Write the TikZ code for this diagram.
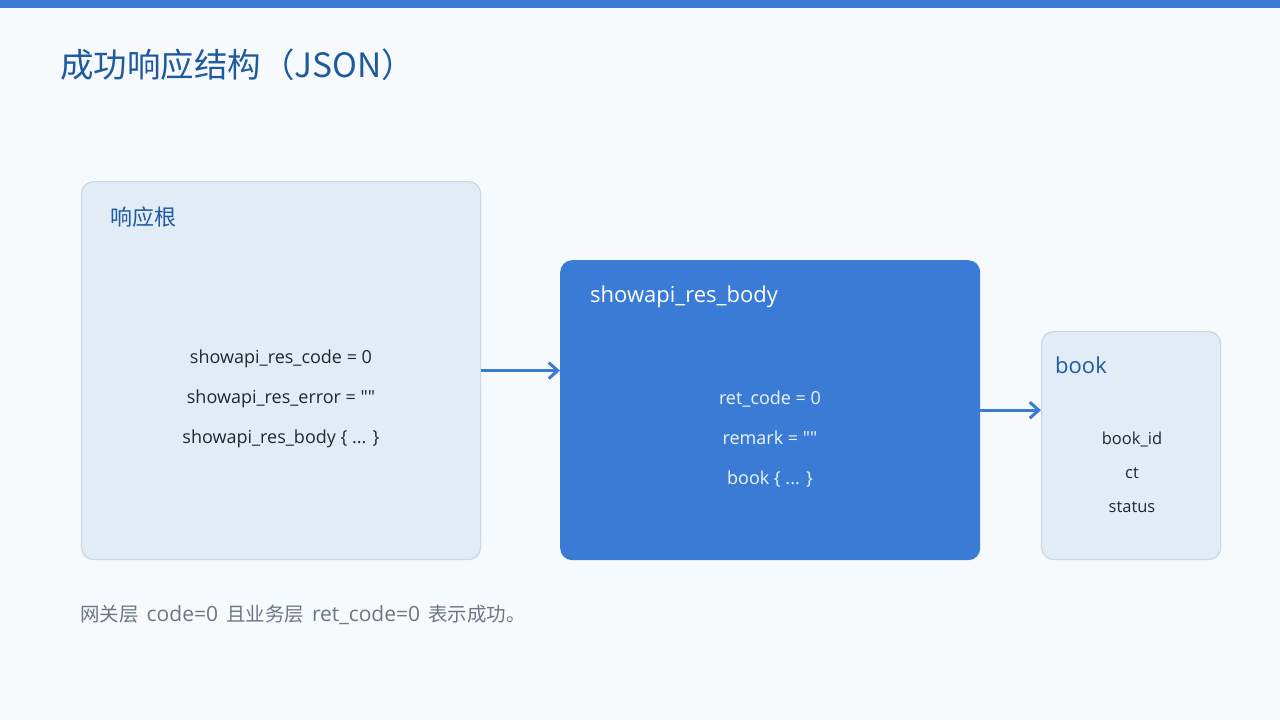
\documentclass[tikz,border=0pt]{standalone}
\usepackage{fontspec}
\setmainfont{Open Sans}[Ligatures=TeXOff]
\newfontfamily\cjk{Noto Sans CJK SC}
\usepackage{xcolor}
\usepackage{tikz}
\usetikzlibrary{arrows.meta, positioning}

\definecolor{bgc}{HTML}{F7FAFD}
\definecolor{mainblue}{HTML}{3A7BD5}
\definecolor{boxfill}{HTML}{E2ECF7}
\definecolor{boxline}{HTML}{CAD6E5}
\definecolor{titleblue}{HTML}{1F5A9E}
\definecolor{textdark}{HTML}{222831}
\definecolor{notegray}{HTML}{6B7785}

\newcommand{\notecjk}[1]{{\cjk\fontsize{19.5}{24}\selectfont #1}}

\tikzset{
  lightbox/.style={draw=boxline, line width=1.2pt, fill=boxfill, rounded corners=12pt,
    anchor=north west, inner sep=0pt},
  darkbox/.style={fill=mainblue, rounded corners=12pt, anchor=north west, inner sep=0pt},
  boxhead/.style={anchor=west, inner sep=0pt, font=\fontsize{22}{26}\selectfont},
  boxbody/.style={align=center, inner sep=0pt},
  link/.style={draw=mainblue, line width=3pt, -{Straight Barb[length=9pt, width=16pt]}}
}

\begin{document}
\begin{tikzpicture}[x=1pt, y=-1pt]
    % Nen va thanh tieu de
    \useasboundingbox (0,0) rectangle (1280,720);
    \fill[bgc] (0,0) rectangle (1280,720);
    \fill[mainblue] (0,0) rectangle (1280,8);
    \node[anchor=base west, inner sep=0pt, text=titleblue, font=\cjk\fontsize{33.5}{36}\selectfont]
        (title) at (60,77) {成功响应结构（JSON）};

    % Ba hop
    \node[lightbox, minimum width=399pt, minimum height=378pt] (root) at (81,181) {};
    \node[darkbox, minimum width=420pt, minimum height=300pt] (body) at (560,260) {};
    \node[lightbox, minimum width=179pt, minimum height=228pt] (book) at (1041,331) {};

    \node[boxhead, text=titleblue, font=\cjk\fontsize{22}{26}\selectfont] (roothead) at (110,217) {响应根};
    \node[boxhead, text=white] (bodyhead) at (590,297) {showapi\_res\_body};
    \node[boxhead, text=titleblue] (bookhead) at (1055,365) {book};

    \node[boxbody, text=textdark, font=\fontsize{18}{40}\selectfont] (rootlist) at (281,399)
        {showapi\_res\_code = 0\\ showapi\_res\_error = ""\\ showapi\_res\_body \{ ... \}};
    \node[boxbody, text=white!92!mainblue, font=\fontsize{18}{40}\selectfont] (bodylist) at (770,439)
        {ret\_code = 0\\ remark = ""\\ book \{ ... \}};
    \node[boxbody, text=textdark, font=\fontsize{16.5}{34}\selectfont] (booklist) at (1132,472)
        {book\_id\\ ct\\ status};

    % Mui ten
    \draw[link] (root.east) -- (root.east -| body.west);
    \draw[link] (body.east) -- (body.east -| book.west);

    \node[anchor=west, inner sep=0pt, text=notegray, font=\fontsize{21}{24}\selectfont] (note) at (80,615)
        {\spaceskip=8pt\relax\notecjk{网关层} code=0 \notecjk{且业务层} ret\_code=0 \notecjk{表示成功。}};
\end{tikzpicture}
\end{document}
